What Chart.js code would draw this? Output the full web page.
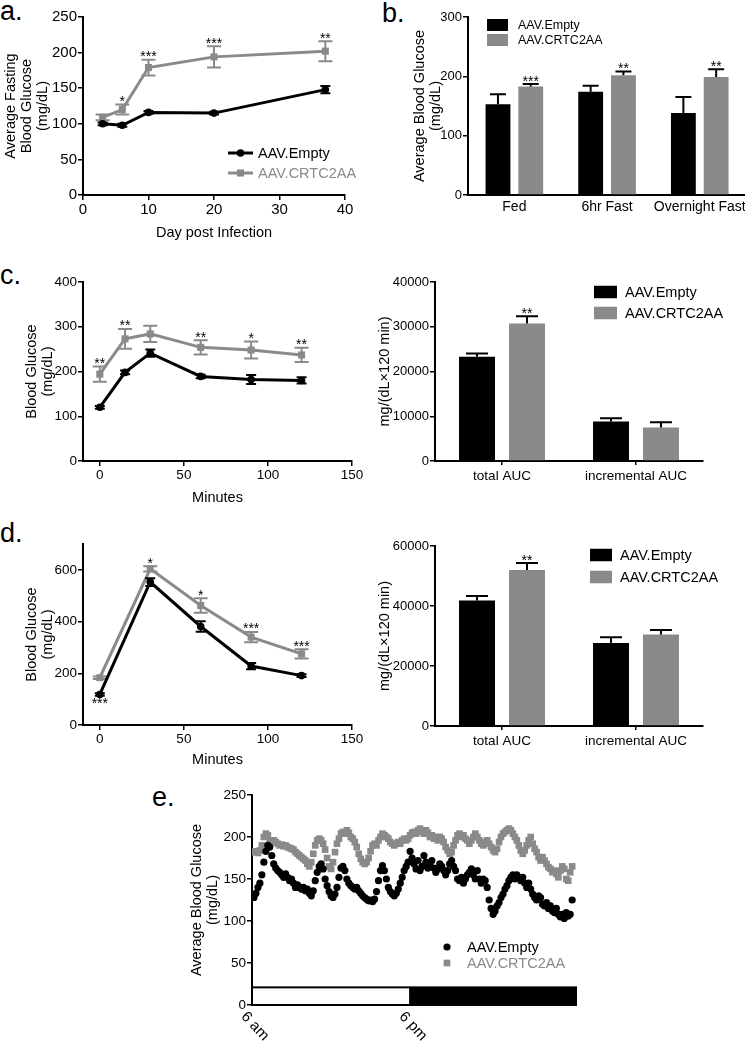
<!DOCTYPE html>
<html>
<head>
<meta charset="utf-8">
<script src="https://cdn.jsdelivr.net/npm/chart.js@4.4.1/dist/chart.umd.min.js"></script>
<style>
  html, body { margin: 0; padding: 0; background: #fff; overflow: hidden; }
  #page { position: relative; width: 745px; height: 1043px; overflow: hidden; }
  canvas { position: absolute; }
  .tag { position: absolute; font: 27px/27px 'Liberation Sans', Arial, sans-serif; color: #000; }
</style>
</head>
<body>
<div id="page">
  <div class="tag" style="left:0;top:-2px">a.</div>
  <div class="tag" style="left:382px;top:0">b.</div>
  <div class="tag" style="left:0;top:262px">c.</div>
  <div class="tag" style="left:0;top:520px">d.</div>
  <div class="tag" style="left:152px;top:784px">e.</div>
  <canvas id="chartA" width="360" height="241" style="left:0;top:0"></canvas>
  <canvas id="chartB" width="350" height="230" style="left:400px;top:0"></canvas>
  <canvas id="chartC1" width="370" height="244" style="left:0;top:262px"></canvas>
  <canvas id="chartC2" width="375" height="239" style="left:370px;top:262px"></canvas>
  <canvas id="chartD1" width="370" height="244" style="left:0;top:524px"></canvas>
  <canvas id="chartD2" width="375" height="240" style="left:370px;top:526px"></canvas>
  <canvas id="chartE" width="420" height="263" style="left:170px;top:780px"></canvas>
</div>
<script>
const GRAY = '#8a8a8a';
const FONT = "'Liberation Sans', Arial, sans-serif";
Chart.defaults.font.family = FONT;
Chart.defaults.color = '#000';

// a. fasting glucose after infection
const dayPostInfection = [3, 6, 10, 20, 37];
const fastingEmpty = [100, 98, 116, 115, 148];
const fastingEmptySem = [2, 2, 2, 2, 5];
const fastingCrtc = [109, 120, 179, 194, 202];
const fastingCrtcSem = [4, 7, 11, 15, 14];
const fastingStars = ['', '*', '***', '***', '**'];

// b. feeding state
const feedingStates = ['Fed', '6hr Fast', 'Overnight Fast'];
const stateEmpty = [153, 174, 138];
const stateEmptySem = [17, 10, 27];
const stateCrtc = [183, 202, 199];
const stateCrtcSem = [4, 6, 13];
const stateStars = ['***', '**', '**'];

// c. tolerance test 1
const gttMinutes = [0, 15, 30, 60, 90, 120];
const gttEmpty = [120, 198, 241, 189, 182, 180];
const gttEmptySem = [3, 4, 8, 4, 10, 7];
const gttCrtc = [194, 273, 284, 254, 248, 237];
const gttCrtcSem = [17, 22, 18, 16, 19, 16];
const gttStars = ['**', '**', '', '**', '*', '**'];

const aucGroups = ['total AUC', 'incremental AUC'];
const gttAucEmpty = [23300, 8800];
const gttAucEmptySem = [700, 750];
const gttAucCrtc = [30700, 7500];
const gttAucCrtcSem = [1650, 1150];
const gttAucStars = ['**', ''];

// d. tolerance test 2
const ptMinutes = [0, 30, 60, 90, 120];
const ptEmpty = [118, 553, 381, 228, 191];
const ptEmptySem = [5, 15, 20, 12, 5];
const ptEmptyStarsBelow = ['***', '', '', '', ''];
const ptCrtc = [183, 604, 462, 340, 275];
const ptCrtcSem = [5, 10, 28, 20, 18];
const ptStars = ['', '*', '*', '***', '***'];

const ptAucEmpty = [41800, 27700];
const ptAucEmptySem = [1500, 1900];
const ptAucCrtc = [52000, 30500];
const ptAucCrtcSem = [2300, 1500];
const ptAucStars = ['**', ''];

// e. continuous glucose, one reading every 9 min from 6 am
const cgmEmpty = [
  130,128,133,140,145,155,170,183,190,188,
  178,168,163,160,158,155,152,156,152,148,
  150,145,140,143,140,138,140,136,138,133,
  130,136,148,158,165,168,162,150,142,135,
  130,128,132,140,152,163,165,160,150,145,
  142,140,138,140,136,133,130,128,126,124,
  125,123,126,135,148,160,166,160,150,140,
  135,132,130,133,138,145,152,160,165,170,
  183,175,168,162,172,160,165,178,170,163,
  168,172,163,158,162,168,165,160,155,160,
  168,172,165,160,150,148,152,145,150,155,
  158,162,155,150,160,150,145,150,148,140,
  125,115,108,112,118,122,128,132,138,142,
  148,152,155,150,155,152,148,152,145,140,
  145,138,132,128,125,130,128,120,118,122,
  115,118,112,110,115,108,105,108,103,110,
  106,108,125
];
const cgmCrtc = [
  183,182,183,181,184,190,200,204,202,196,
  195,196,194,192,190,191,189,190,188,187,
  186,185,182,180,178,176,174,172,168,165,
  170,180,190,196,198,196,192,185,175,165,
  162,170,182,192,198,204,206,204,208,205,
  200,198,194,188,180,174,170,168,170,175,
  183,190,192,190,196,200,204,202,200,198,
  194,192,190,192,194,192,196,198,196,198,
  202,205,206,204,208,210,206,204,208,205,
  200,202,198,200,196,200,198,194,188,184,
  180,182,190,196,202,204,200,202,198,196,
  192,196,200,204,200,196,192,190,194,196,
  192,188,184,182,186,194,200,204,206,208,
  210,208,204,200,196,190,184,180,184,190,
  196,200,192,186,182,176,172,176,172,168,
  164,162,158,160,156,152,160,165,162,150,
  148,158,165
];
const cgmMinutes = cgmEmpty.map((_, i) => i * 9);
const lightPhase = [0, 720];
const darkPhase = [720, 1480];
const phaseBarTop = 21;
const clockTicks = [0, 720];
const clockLabels = ['6 am', '6 pm'];

function xy(xs, ys) {
  return ys.map((y, i) => ({ x: xs[i], y: y }));
}
function val(d) {
  return typeof d === 'object' ? d.y : d;
}

// SEM whiskers, drawn right after each dataset
const errorBars = {
  id: 'errorBars',
  afterDatasetDraw(chart, args) {
    const ds = chart.data.datasets[args.index];
    if (!ds.sem) return;
    const ys = chart.scales.y;
    const ctx = chart.ctx;
    ctx.save();
    ctx.strokeStyle = ds.semColor || ds.borderColor;
    ctx.lineWidth = 2;
    args.meta.data.forEach((el, i) => {
      const v = val(ds.data[i]);
      const e = ds.sem[i];
      const top = ys.getPixelForValue(v + e);
      const bot = ds.semUpOnly ? el.y : ys.getPixelForValue(v - e);
      const w = ds.capWidth / 2;
      ctx.beginPath();
      ctx.moveTo(el.x, top);
      ctx.lineTo(el.x, bot);
      ctx.moveTo(el.x - w, top);
      ctx.lineTo(el.x + w, top);
      if (!ds.semUpOnly) {
        ctx.moveTo(el.x - w, bot);
        ctx.lineTo(el.x + w, bot);
      }
      ctx.stroke();
    });
    ctx.restore();
  }
};

const starLabels = {
  id: 'starLabels',
  afterDatasetsDraw(chart) {
    const ctx = chart.ctx;
    const ys = chart.scales.y;
    chart.data.datasets.forEach((ds, di) => {
      const meta = chart.getDatasetMeta(di);
      ctx.save();
      ctx.font = '14px ' + FONT;
      ctx.fillStyle = '#000';
      ctx.textAlign = 'center';
      (ds.stars || []).forEach((s, i) => {
        if (!s) return;
        const e = ds.sem ? ds.sem[i] : 0;
        ctx.textBaseline = 'alphabetic';
        ctx.fillText(s, meta.data[i].x, ys.getPixelForValue(val(ds.data[i]) + e) + 1.5);
      });
      (ds.starsBelow || []).forEach((s, i) => {
        if (!s) return;
        const e = ds.sem ? ds.sem[i] : 0;
        ctx.textBaseline = 'top';
        ctx.fillText(s, meta.data[i].x, ys.getPixelForValue(val(ds.data[i]) - e) + 1);
      });
      ctx.restore();
    });
  }
};

function drawMarker(ctx, style, r, x, y) {
  ctx.beginPath();
  if (style === 'rect') {
    const h = r * Math.SQRT1_2;
    ctx.rect(x - h, y - h, 2 * h, 2 * h);
  } else {
    ctx.arc(x, y, r, 0, Math.PI * 2);
  }
  ctx.fill();
}

// legend drawn from the datasets themselves
const keyLegend = {
  id: 'keyLegend',
  afterDraw(chart, args, opts) {
    if (!opts.kind) return;
    const ctx = chart.ctx;
    ctx.save();
    ctx.font = opts.fontSize + 'px ' + FONT;
    ctx.textBaseline = 'middle';
    ctx.textAlign = 'left';
    chart.data.datasets.forEach((ds, i) => {
      const x = opts.left;
      const y = opts.top + i * opts.rowGap;
      const color = ds.backgroundColor;
      ctx.fillStyle = color;
      ctx.strokeStyle = color;
      if (opts.kind === 'box') {
        ctx.fillRect(x, y - opts.boxH / 2, opts.boxW, opts.boxH);
      } else if (opts.kind === 'line') {
        ctx.lineWidth = 3;
        ctx.beginPath();
        ctx.moveTo(x, y);
        ctx.lineTo(x + opts.boxW, y);
        ctx.stroke();
        drawMarker(ctx, ds.pointStyle, ds.pointRadius, x + opts.boxW / 2, y);
      } else {
        drawMarker(ctx, ds.pointStyle, ds.pointRadius, x + opts.boxW / 2, y);
      }
      ctx.fillStyle = opts.tintText ? color : '#000';
      ctx.fillText(ds.label, x + opts.textGap, y + 1);
    });
    ctx.restore();
  }
};

const lightDark = {
  id: 'lightDark',
  afterDatasetsDraw(chart) {
    const ctx = chart.ctx;
    const xs = chart.scales.x;
    const ys = chart.scales.y;
    const top = ys.getPixelForValue(phaseBarTop);
    const bottom = ys.getPixelForValue(0);
    const l0 = xs.getPixelForValue(lightPhase[0]);
    const l1 = xs.getPixelForValue(lightPhase[1]);
    const d0 = xs.getPixelForValue(darkPhase[0]);
    const d1 = xs.getPixelForValue(darkPhase[1]);
    ctx.save();
    ctx.fillStyle = '#fff';
    ctx.fillRect(l0, top, l1 - l0, bottom - top);
    ctx.strokeStyle = '#000';
    ctx.lineWidth = 2;
    ctx.strokeRect(l0, top, l1 - l0, bottom - top);
    ctx.fillStyle = '#000';
    ctx.fillRect(d0, top - 1, d1 - d0, bottom - top + 2);
    ctx.font = '15px ' + FONT;
    ctx.textAlign = 'left';
    ctx.textBaseline = 'top';
    clockTicks.forEach((t, i) => {
      ctx.save();
      ctx.translate(xs.getPixelForValue(t) - 3, bottom + 4);
      ctx.rotate(47 * Math.PI / 180);
      ctx.fillText(clockLabels[i], 0, 0);
      ctx.restore();
    });
    ctx.restore();
  }
};

function plainNumber(v) {
  return String(v);
}
function yAxis(min, max, step, width, size, title, titlePad) {
  return {
    min: min, max: max,
    border: { color: '#000', width: 2 },
    grid: { drawOnChartArea: false, color: '#000', lineWidth: 1.5, tickLength: 5 },
    ticks: { stepSize: step, padding: 1, includeBounds: false, font: { size: size }, color: '#000', callback: plainNumber },
    title: { display: true, text: title, color: '#000', font: { size: 14.5, lineHeight: 1.1 }, padding: { top: titlePad, bottom: 0 } },
    afterFit: s => { s.width = width; }
  };
}
function xLinear(min, max, step, height, size, title) {
  return {
    type: 'linear', min: min, max: max,
    border: { color: '#000', width: 2 },
    grid: { drawOnChartArea: false, color: '#000', lineWidth: 1.5, tickLength: 5 },
    ticks: { stepSize: step, padding: 1, includeBounds: false, maxRotation: 0, font: { size: size }, color: '#000' },
    title: { display: true, text: title, color: '#000', font: { size: 14.5, lineHeight: 1.1 }, padding: { top: 0, bottom: 0 } },
    afterFit: s => { s.height = height; }
  };
}
function xCategory(height, size, tickLen, pad) {
  return {
    border: { color: '#000', width: 2 },
    grid: { offset: false, drawOnChartArea: false, drawTicks: tickLen > 0, color: '#000', lineWidth: 1.5, tickLength: tickLen },
    ticks: { padding: pad, maxRotation: 0, autoSkip: false, font: { size: size }, color: '#000' },
    afterFit: s => { s.height = height; }
  };
}
function baseOptions(padding, scales, legend) {
  return {
    responsive: false,
    animation: false,
    devicePixelRatio: 1,
    layout: { padding: padding },
    plugins: { legend: { display: false }, tooltip: { enabled: false }, keyLegend: legend },
    scales: scales
  };
}
function lineSet(label, xs, ys, sem, color, style, radius, cap) {
  return {
    label: label,
    data: xy(xs, ys),
    borderColor: color,
    backgroundColor: color,
    borderWidth: 3,
    tension: 0,
    pointStyle: style,
    pointRadius: radius,
    pointBorderWidth: 0,
    pointBackgroundColor: color,
    sem: sem,
    capWidth: cap
  };
}
function barSet(label, ys, sem, color, cap) {
  return {
    label: label,
    data: ys,
    backgroundColor: color,
    borderWidth: 0,
    sem: sem,
    semColor: '#000',
    semUpOnly: true,
    capWidth: cap
  };
}

// a
const setA1 = lineSet('AAV.Empty', dayPostInfection, fastingEmpty, fastingEmptySem, '#000', 'circle', 3.8, 10);
const setA2 = lineSet('AAV.CRTC2AA', dayPostInfection, fastingCrtc, fastingCrtcSem, GRAY, 'rect', 5, 14);
setA2.stars = fastingStars;
new Chart(document.getElementById('chartA'), {
  type: 'line',
  data: { datasets: [setA1, setA2] },
  options: baseOptions({ top: 17, right: 15, bottom: 0, left: 0 }, {
    x: xLinear(0, 40, 10, 46, 15, 'Day post Infection'),
    y: yAxis(0, 250, 50, 83, 15, ['Average Fasting', 'Blood Glucose', '(mg/dL)'], 3)
  }, { kind: 'line', left: 228, top: 153, rowGap: 20, boxW: 25, textGap: 30, fontSize: 14.5, tintText: true }),
  plugins: [errorBars, starLabels, keyLegend]
});

// b
const setB1 = barSet('AAV.Empty', stateEmpty, stateEmptySem, '#000', 16);
const setB2 = barSet('AAV.CRTC2AA', stateCrtc, stateCrtcSem, GRAY, 16);
setB2.stars = stateStars;
const optB = baseOptions({ top: 17, right: 2, bottom: 0, left: 0 }, {
  x: xCategory(35, 14, 0, 4),
  y: yAxis(0, 300, 100, 68, 13, ['Average Blood Glucose', '(mg/dL)'], 12)
}, { kind: 'box', left: 87, top: 25, rowGap: 15, boxW: 21, boxH: 12, textGap: 31, fontSize: 12.5 });
optB.datasets = { bar: { categoryPercentage: 0.707, barPercentage: 0.758 } };
new Chart(document.getElementById('chartB'), {
  type: 'bar',
  data: { labels: feedingStates, datasets: [setB1, setB2] },
  options: optB,
  plugins: [errorBars, starLabels, keyLegend]
});

// c left
const setC1 = lineSet('AAV.Empty', gttMinutes, gttEmpty, gttEmptySem, '#000', 'circle', 3.8, 10);
const setC2 = lineSet('AAV.CRTC2AA', gttMinutes, gttCrtc, gttCrtcSem, GRAY, 'rect', 5, 14);
setC2.stars = gttStars;
new Chart(document.getElementById('chartC1'), {
  type: 'line',
  data: { datasets: [setC1, setC2] },
  options: baseOptions({ top: 20, right: 18, bottom: 0, left: 0 }, {
    x: xLinear(-10, 150, 50, 45, 13.5, 'Minutes'),
    y: yAxis(0, 400, 100, 83, 13.5, ['Blood Glucose', '(mg/dL)'], 24)
  }, {}),
  plugins: [errorBars, starLabels]
});

// c right
const setC3 = barSet('AAV.Empty', gttAucEmpty, gttAucEmptySem, '#000', 22);
const setC4 = barSet('AAV.CRTC2AA', gttAucCrtc, gttAucCrtcSem, GRAY, 22);
setC4.stars = gttAucStars;
const optC2 = baseOptions({ top: 20, right: 42, bottom: 0, left: 0 }, {
  x: xCategory(40, 13.5, 4, 3),
  y: yAxis(0, 40000, 10000, 65, 13, 'mg/(dL×120 min)', 7)
}, { kind: 'box', left: 224, top: 30, rowGap: 21, boxW: 23, boxH: 12.5, textGap: 31, fontSize: 14.5 });
optC2.datasets = { bar: { categoryPercentage: 0.746, barPercentage: 0.72 } };
new Chart(document.getElementById('chartC2'), {
  type: 'bar',
  data: { labels: aucGroups, datasets: [setC3, setC4] },
  options: optC2,
  plugins: [errorBars, starLabels, keyLegend]
});

// d left
const setD1 = lineSet('AAV.Empty', ptMinutes, ptEmpty, ptEmptySem, '#000', 'circle', 3.8, 10);
const setD2 = lineSet('AAV.CRTC2AA', ptMinutes, ptCrtc, ptCrtcSem, GRAY, 'rect', 5, 14);
setD1.starsBelow = ptEmptyStarsBelow;
setD2.stars = ptStars;
new Chart(document.getElementById('chartD1'), {
  type: 'line',
  data: { datasets: [setD1, setD2] },
  options: baseOptions({ top: 20, right: 18, bottom: 0, left: 0 }, {
    x: xLinear(-10, 150, 50, 43, 13.5, 'Minutes'),
    y: yAxis(0, 700, 200, 83, 13.5, ['Blood Glucose', '(mg/dL)'], 24)
  }, {}),
  plugins: [errorBars, starLabels]
});

// d right
const setD3 = barSet('AAV.Empty', ptAucEmpty, ptAucEmptySem, '#000', 22);
const setD4 = barSet('AAV.CRTC2AA', ptAucCrtc, ptAucCrtcSem, GRAY, 22);
setD4.stars = ptAucStars;
const optD2 = baseOptions({ top: 20, right: 42, bottom: 0, left: 0 }, {
  x: xCategory(40, 13.5, 4, 3),
  y: yAxis(0, 60000, 20000, 65, 13, 'mg/(dL×120 min)', 7)
}, { kind: 'box', left: 220, top: 29, rowGap: 22, boxW: 22, boxH: 12.5, textGap: 30, fontSize: 14.5 });
optD2.datasets = { bar: { categoryPercentage: 0.746, barPercentage: 0.72 } };
new Chart(document.getElementById('chartD2'), {
  type: 'bar',
  data: { labels: aucGroups, datasets: [setD3, setD4] },
  options: optD2,
  plugins: [errorBars, starLabels, keyLegend]
});

// e
const optE = baseOptions({ top: 15, right: 13, bottom: 0, left: 0 }, {
  x: {
    type: 'linear', min: 0, max: 1480,
    border: { display: false },
    grid: { display: false },
    ticks: { display: false },
    afterFit: s => { s.height = 38; }
  },
  y: yAxis(0, 250, 50, 82, 13.5, ['Average Blood Glucose', '(mg/dL)'], 19)
}, { kind: 'marker', left: 273, top: 167, rowGap: 16, boxW: 8, textGap: 24, fontSize: 14.5, tintText: true });
new Chart(document.getElementById('chartE'), {
  type: 'scatter',
  data: {
    datasets: [
      { label: 'AAV.Empty', data: xy(cgmMinutes, cgmEmpty), backgroundColor: '#000', pointBackgroundColor: '#000', pointStyle: 'circle', pointRadius: 3.6, pointBorderWidth: 0 },
      { label: 'AAV.CRTC2AA', data: xy(cgmMinutes, cgmCrtc), backgroundColor: GRAY, pointBackgroundColor: GRAY, pointStyle: 'rect', pointRadius: 4.7, pointBorderWidth: 0 }
    ]
  },
  options: optE,
  plugins: [lightDark, keyLegend]
});
</script>
</body>
</html>
